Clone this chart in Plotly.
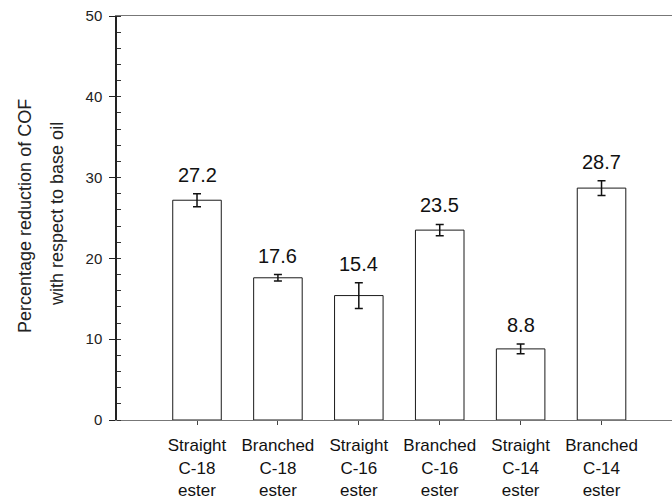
import plotly.graph_objects as go

# Percentage reduction of COF for each ester, relative to the base oil
categories = [
    "Straight<br>C-18<br>ester",
    "Branched<br>C-18<br>ester",
    "Straight<br>C-16<br>ester",
    "Branched<br>C-16<br>ester",
    "Straight<br>C-14<br>ester",
    "Branched<br>C-14<br>ester",
]
reduction = [27.2, 17.6, 15.4, 23.5, 8.8, 28.7]
error = [0.8, 0.4, 1.6, 0.7, 0.6, 0.9]
y_ticks = [0, 10, 20, 30, 40, 50]

FONT = "Liberation Sans, Arial, sans-serif"
x_pos = list(range(len(categories)))

fig = go.Figure()
fig.add_trace(
    go.Bar(
        x=x_pos,
        y=reduction,
        width=0.6,
        marker=dict(color="white", line=dict(color="#1a1a1a", width=1)),
        error_y=dict(type="data", array=error, visible=True,
                     color="#111111", thickness=1.5, width=4),
        showlegend=False,
        hoverinfo="skip",
    )
)

# value labels above each error bar
for xi, v, e in zip(x_pos, reduction, error):
    fig.add_annotation(
        x=xi, y=v + e, text=f"{v:.1f}", showarrow=False,
        yanchor="middle", yshift=19,
        font=dict(family=FONT, size=20, color="#111111"),
    )

# two-line rotated y-axis title
fig.add_annotation(
    xref="paper", yref="paper", x=0, y=0.505, xshift=-92,
    xanchor="center", yanchor="middle",
    text="Percentage reduction of COF", textangle=-90, showarrow=False,
    font=dict(family=FONT, size=18, color="#222222"),
)
fig.add_annotation(
    xref="paper", yref="paper", x=0, y=0.51, xshift=-60,
    xanchor="center", yanchor="middle",
    text="with respect to base oil", textangle=-90, showarrow=False,
    font=dict(family=FONT, size=18, color="#222222"),
)

fig.update_layout(
    width=672,
    height=499,
    margin=dict(l=117, r=0, t=16, b=79),
    paper_bgcolor="white",
    plot_bgcolor="white",
    font=dict(family=FONT, color="#222222"),
    xaxis=dict(
        range=[-0.989, 5.871],
        tickmode="array",
        tickvals=x_pos,
        ticktext=categories,
        ticks="outside",
        ticklen=4,
        tickcolor="#444444",
        showline=True,
        linecolor="#777777",
        linewidth=1,
        mirror=True,
        showgrid=False,
        zeroline=False,
        automargin=False,
        tickfont=dict(family=FONT, size=17, color="#111111"),
        ticklabelstandoff=6,
    ),
    yaxis=dict(
        range=[0, 50],
        tickmode="array",
        tickvals=y_ticks,
        ticks="outside",
        ticklen=6,
        tickcolor="#222222",
        showline=True,
        linecolor="#222222",
        linewidth=1.5,
        showgrid=False,
        zeroline=False,
        automargin=False,
        tickfont=dict(family=FONT, size=15, color="#222222"),
        ticklabelstandoff=4,
        minor=dict(dtick=2, ticks="inside", ticklen=4, tickcolor="#333333",
                   showgrid=False),
    ),
)

fig.write_html("out.html")
